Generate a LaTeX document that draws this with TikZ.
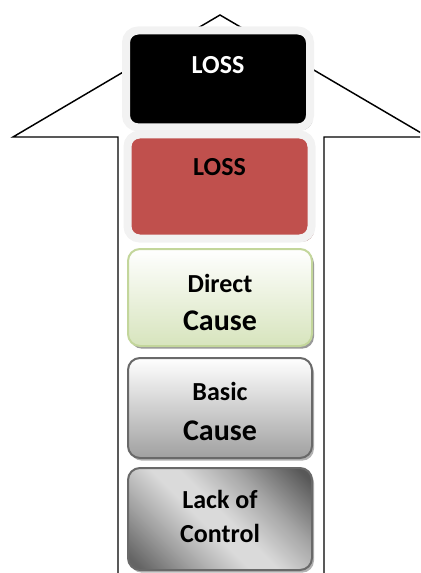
\documentclass[tikz,border=0pt]{standalone}
\usepackage{fontspec}
\setmainfont{Carlito}
\usetikzlibrary{shadows}

\definecolor{lossred}{RGB}{192,80,77}
\definecolor{rimgray}{RGB}{242,242,242}
\definecolor{greenrim}{RGB}{195,214,155}
\definecolor{greenlow}{RGB}{215,228,189}
\definecolor{grayrim}{RGB}{105,105,105}
\definecolor{graylow}{RGB}{160,160,160}
\definecolor{lackdark}{RGB}{100,100,100}
\definecolor{lackend}{RGB}{88,88,88}
\definecolor{lackmid}{RGB}{165,165,165}
\definecolor{lacklight}{RGB}{218,218,218}
\pgfdeclarehorizontalshading{lackshade}{100bp}{color(0bp)=(lackdark); color(18bp)=(lackdark); color(32bp)=(lackmid); color(45bp)=(lacklight); color(52bp)=(lacklight); color(66bp)=(lackmid); color(82bp)=(lackend); color(100bp)=(lackend)}

\begin{document}
\begin{tikzpicture}[x=0.75pt,y=0.75pt,yscale=-1,xscale=1,
  stagebox/.style={rounded corners=9pt, minimum width=138pt, inner sep=0pt, align=center,
    font=\bfseries\fontsize{19.5}{28}\selectfont},
  lossbox/.style={stagebox, line width=6pt, draw=rimgray, minimum height=0pt},
  causebox/.style={stagebox, line width=1.5pt, draw=grayrim},
  arrowline/.style={line width=1.1pt, line join=miter}]
\clip (0,0) rectangle (420,573);

%Shape: Up Arrow
\draw [arrowline] (118,590) -- (118,137) -- (13,137) -- (220,15) -- (428,137) -- (324,137) -- (324,590) ;

%Shape: Rounded Rect -- top loss
\node [lossbox, fill=black, text=white, text height=32.6pt, text depth=40.1pt, anchor=north,
  drop shadow={shadow xshift=2.2pt, shadow yshift=-2.2pt, fill=black!30, opacity=1}] (topLoss) at (218,26.5) {LOSS};

%Shape: Rounded Rect -- loss
\node [lossbox, fill=lossred, text=black, text height=30.4pt, text depth=47.6pt, anchor=north,
  drop shadow={shadow xshift=2pt, shadow yshift=-2.5pt, fill={rgb,255:red,180;green,138;blue,137}, opacity=1}] (loss) at (219.5,130.5) {LOSS};

%Shape: Rounded Rect -- direct cause
\node [causebox, draw=greenrim, top color=white, bottom color=greenlow, minimum height=72.75pt,
  drop shadow={shadow xshift=1.5pt, shadow yshift=-2pt, fill=black!40, opacity=1}] (directCause) at (220,297.5)
  {\rule{0pt}{21pt}Direct\\[1pt]{\fontsize{22.5}{27}\selectfont Cause}};

%Shape: Rounded Rect -- basic cause
\node [causebox, top color=white, bottom color=graylow, minimum height=75pt,
  drop shadow={shadow xshift=1.5pt, shadow yshift=-2pt, fill=black!30, opacity=1}] (basicCause) at (220,408)
  {\rule{0pt}{19.5pt}Basic\\[2pt]{\fontsize{22.5}{27}\selectfont Cause}};

%Shape: Rounded Rect -- lack of control
\node [causebox, shading=lackshade, shading angle=45, minimum height=76.5pt,
  drop shadow={shadow xshift=1.5pt, shadow yshift=-2pt, fill=black!30, opacity=1}] (lackControl) at (220,519)
  {Lack of\\[-3pt]Control\rule[-4pt]{0pt}{1pt}};

\end{tikzpicture}
\end{document}
